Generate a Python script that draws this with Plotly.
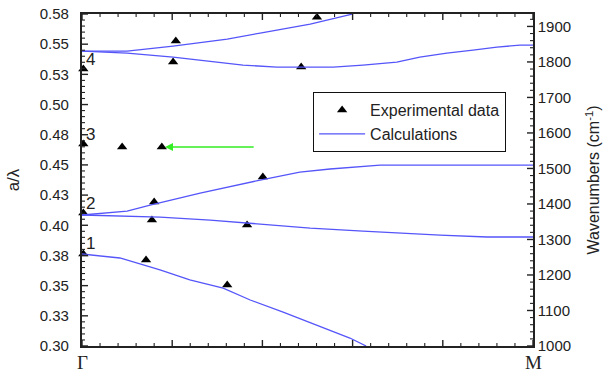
import plotly.graph_objects as go

# ---- data (x: 0 = Γ, 1 = M) ----
exp_x = [0.003, 0.202, 0.208, 0.486, 0.521,
         0.003, 0.089, 0.177,
         0.003, 0.160, 0.155, 0.366, 0.401,
         0.003, 0.142, 0.322]
exp_y = [0.5294, 0.5352, 0.5526, 0.5310, 0.5724,
         0.4673, 0.4648, 0.4648,
         0.4101, 0.4192, 0.4043, 0.4002, 0.4399,
         0.3762, 0.3712, 0.3505]

band1_x = [0, 0.084, 0.173, 0.239, 0.313, 0.373, 0.446, 0.521, 0.594, 0.630]
band1_y = [0.3762, 0.3729, 0.3630, 0.3547, 0.3480, 0.3381, 0.3281, 0.3174, 0.3066, 0.3000]

band2a_x = [0, 0.173, 0.284, 0.395, 0.506, 0.623, 0.734, 0.794, 0.898, 1.0]
band2a_y = [0.4085, 0.4068, 0.4043, 0.4010, 0.3977, 0.3952, 0.3927, 0.3919, 0.3903, 0.3903]

band2b_x = [0, 0.100, 0.151, 0.262, 0.395, 0.483, 0.550, 0.623, 0.661, 1.0]
band2b_y = [0.4085, 0.4118, 0.4167, 0.4267, 0.4374, 0.4441, 0.4466, 0.4490, 0.4499, 0.4499]

band4a_x = [0, 0.100, 0.202, 0.322, 0.395, 0.506, 0.599]
band4a_y = [0.5443, 0.5443, 0.5484, 0.5542, 0.5592, 0.5666, 0.5749]

band4b_x = [0, 0.100, 0.202, 0.284, 0.357, 0.432, 0.557, 0.623, 0.698, 0.749, 0.809, 0.867, 0.920, 0.971, 1.0]
band4b_y = [0.5443, 0.5426, 0.5393, 0.5360, 0.5327, 0.5310, 0.5310, 0.5327, 0.5352, 0.5393, 0.5426, 0.5451, 0.5476, 0.5492, 0.5492]

left_ticks = [0.300, 0.325, 0.350, 0.375, 0.400, 0.425, 0.450, 0.475, 0.500, 0.525, 0.550, 0.575]
left_labels = ["0.30", "0.33", "0.35", "0.38", "0.40", "0.43", "0.45", "0.48", "0.50", "0.53", "0.55", "0.58"]
right_ticks = [1000, 1100, 1200, 1300, 1400, 1500, 1600, 1700, 1800, 1900]
x_ticks = [0, 0.2, 0.4, 0.6, 0.8, 1.0]
x_point_pos = [0, 1]
x_point_names = ["Γ", "M"]

band_labels = ["1", "2", "3", "4"]
band_label_y = [0.3853, 0.4184, 0.4748, 0.5370]

arrow_head = (0.184, 0.4648)
arrow_tail = (0.384, 0.4648)

LINE_COLOR = "rgb(85,85,250)"
FONT = "Liberation Sans, Arial, sans-serif"
AX = "#222"
NBSP = "\u00a0"
PLOT_W, PLOT_H = 451, 332   # plot area in px (for tick lengths)

fig = go.Figure()
fig.add_trace(go.Scatter(x=exp_x, y=exp_y, mode="markers", name="Experimental data",
                         marker=dict(symbol="triangle-up", size=9, color="black"),
                         cliponaxis=False))
bands = [(band1_x, band1_y), (band2a_x, band2a_y), (band2b_x, band2b_y),
         (band4a_x, band4a_y), (band4b_x, band4b_y)]
for i, (bx, by) in enumerate(bands):
    fig.add_trace(go.Scatter(x=bx, y=by, mode="lines", name="Calculations",
                             legendgroup="calc", showlegend=(i == 0),
                             line=dict(color=LINE_COLOR, width=1.3)))
# empty carrier so that the right axis is drawn
fig.add_trace(go.Scatter(x=[None], y=[None], yaxis="y2", showlegend=False, hoverinfo="skip"))

for t, yv in zip(band_labels, band_label_y):
    fig.add_annotation(x=0.004, y=yv, text=t, showarrow=False, xanchor="left",
                       font=dict(size=17, color="#222", family=FONT))

for xv, name in zip(x_point_pos, x_point_names):
    fig.add_annotation(x=xv, y=0, xref="x", yref="paper", yanchor="top", yshift=-4,
                       text=name, showarrow=False,
                       font=dict(family="Liberation Serif, Times New Roman, serif", size=19, color="#222"))

fig.add_annotation(x=arrow_head[0], y=arrow_head[1], ax=arrow_tail[0], ay=arrow_tail[1],
                   xref="x", yref="y", axref="x", ayref="y", text="", showarrow=True,
                   arrowhead=2, arrowsize=1, arrowwidth=1.6, arrowcolor="#33ee22")

# ---- inside tick marks (major + minor) drawn as axis decorations ----
def tick(xref, yref, x0, x1, y0, y1, w):
    fig.add_shape(type="line", xref=xref, yref=yref, x0=x0, x1=x1, y0=y0, y1=y1,
                  line=dict(color=AX, width=w), layer="above")

MAJ, MIN = 6, 3
x_minor = [k * 0.04 for k in range(26) if k % 5]
for v in x_ticks:
    tick("x", "paper", v, v, 0, MAJ / PLOT_H, 1.4)
    tick("x", "paper", v, v, 1, 1 - MAJ / PLOT_H, 1.4)
for v in x_minor:
    tick("x", "paper", v, v, 0, MIN / PLOT_H, 1.1)
    tick("x", "paper", v, v, 1, 1 - MIN / PLOT_H, 1.1)

y_minor = [0.30 + k * 0.005 for k in range(56) if k % 5]
for v in left_ticks:
    tick("paper", "y", 0, MAJ / PLOT_W, v, v, 1.4)
for v in y_minor:
    tick("paper", "y", 0, MIN / PLOT_W, v, v, 1.1)

r_minor = [1000 + k * 20 for k in range(47) if k % 5]
for v in right_ticks:
    tick("paper", "y2", 1, 1 - MAJ / PLOT_W, v, v, 1.4)
for v in r_minor:
    tick("paper", "y2", 1, 1 - MIN / PLOT_W, v, v, 1.1)

axis_common = dict(showline=True, linecolor=AX, linewidth=1.5, showgrid=False,
                   zeroline=False, ticks="", automargin=False)

fig.update_layout(
    width=611, height=372,
    margin=dict(l=82, r=78, t=14, b=26),
    paper_bgcolor="white", plot_bgcolor="white",
    font=dict(family=FONT, size=15, color="#222"),
    xaxis=dict(range=[0, 1], tickvals=x_ticks, showticklabels=False, mirror=True, **axis_common),
    yaxis=dict(range=[0.30, 0.575], tickvals=left_ticks,
               ticktext=[s + NBSP + NBSP for s in left_labels],
               title=dict(text="a/λ", font=dict(size=17), standoff=16),
               **axis_common),
    yaxis2=dict(range=[1000, 1935], overlaying="y", side="right", tickvals=right_ticks,
                tickprefix=NBSP,
                title=dict(text="Wavenumbers (cm<sup>-1</sup>)", font=dict(size=16), standoff=18),
                **axis_common),
    legend=dict(x=0.512, y=0.765, xanchor="left", yanchor="top",
                bordercolor="#111", borderwidth=1.2, bgcolor="white",
                font=dict(size=16, color="#222"), itemwidth=46, tracegroupgap=0,
                entrywidth=150),
)

fig.write_html("out.html")
